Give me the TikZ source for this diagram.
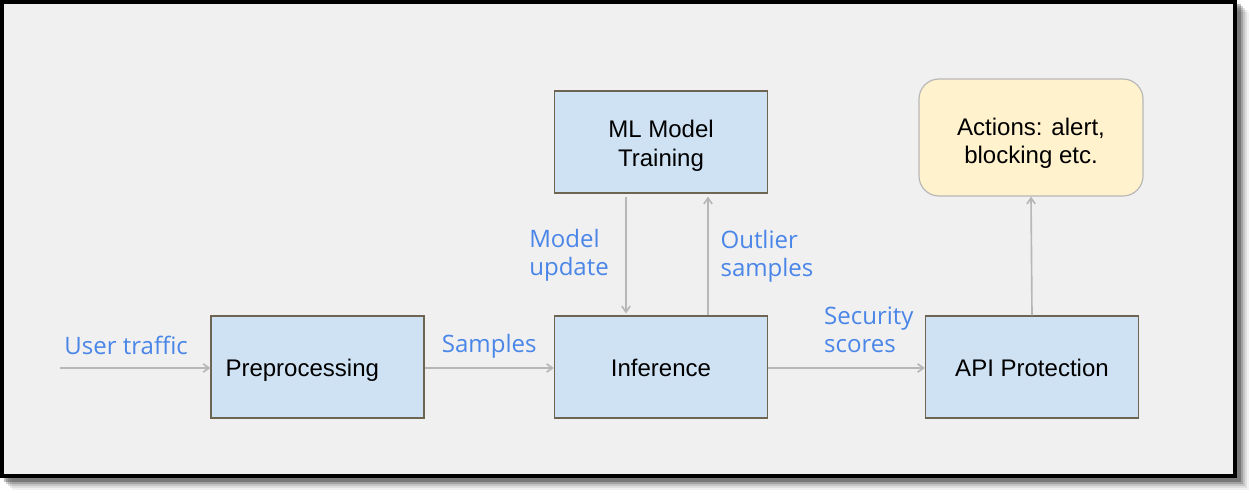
\documentclass[tikz,border=0pt]{standalone}
\usepackage{fontspec}
\setmainfont{Liberation Sans}
\newfontfamily\lblfont{Open Sans}
\usetikzlibrary{arrows.meta,positioning}
\definecolor{boxblue}{HTML}{CFE2F3}
\definecolor{boxedge}{RGB}{110,100,82}
\definecolor{actfill}{HTML}{FFF2CC}
\definecolor{lblblue}{HTML}{4A86E8}
\definecolor{arrgray}{HTML}{B7B7B7}
\definecolor{pagegray}{HTML}{F0F0F0}

\begin{document}
\begin{tikzpicture}[x=0.03cm, y=-0.03cm,
    box/.style={draw=boxedge, line width=1pt, fill=boxblue, minimum width=6.39cm, minimum height=3.06cm, align=center, text height=17pt, text depth=0pt, font=\fontsize{20.5}{24}\selectfont},
    act/.style={draw=arrgray, line width=1pt, fill=actfill, rounded corners=0.6cm, minimum width=6.72cm, minimum height=3.51cm, align=center, text height=44pt, text depth=0pt, font=\fontsize{20.5}{24}\selectfont},
    arr/.style={-{Straight Barb[length=5pt,width=7pt]}, draw=arrgray, line width=1.4pt},
    lbl/.style={text=lblblue, align=left, font=\lblfont\fontsize{20.5}{24}\selectfont, inner sep=0pt}
]
\useasboundingbox (0,0) rectangle (1250,492);
% frame with shadow
\foreach \o/\a in {12/0.05,10/0.08,8/0.12,6/0.18,4/0.25}
  \fill[black, opacity=\a] (\o,\o) rectangle (1237+\o,478+\o);
\draw[line width=4pt, fill=pagegray] (2,2) rectangle (1235,476);

\node[box] (prep) at (317.5,367) {Preprocessing\hspace*{26pt}};
\node[box] (inf) at (661,367) {Inference};
\node[box, text height=41pt] (train) at (661,142) {ML Model\\Training};
\node[box] (api) at (1032,367) {API Protection};
\node[act] (acts) at (1031,137.5) {Actions: alert,\\blocking etc.};
\coordinate (src) at (60,368);

\draw[arr] (src) -- node[lbl, above=11pt, xshift=-0.27cm] {User traffic} (prep.west |- src);
\draw[arr] (prep.east |- src) -- node[lbl, above=8pt] {Samples} (inf.west |- src);
\draw[arr] (inf.east |- src) -- node[lbl, above=12pt, xshift=0.67cm] {Security\\scores} (api.west |- src);
\draw[arr] ([xshift=-1.05cm,yshift=-0.09cm]train.south) -- node[lbl, left=14pt] {Model\\update} ([xshift=-1.05cm,yshift=0.06cm]inf.north);
\draw[arr] ([xshift=1.41cm]inf.north) -- node[lbl, right=10pt] {Outlier\\samples} ([xshift=1.41cm,yshift=-0.09cm]train.south);
\draw[arr] (api.north) -- (acts.south);
\end{tikzpicture}
\end{document}
